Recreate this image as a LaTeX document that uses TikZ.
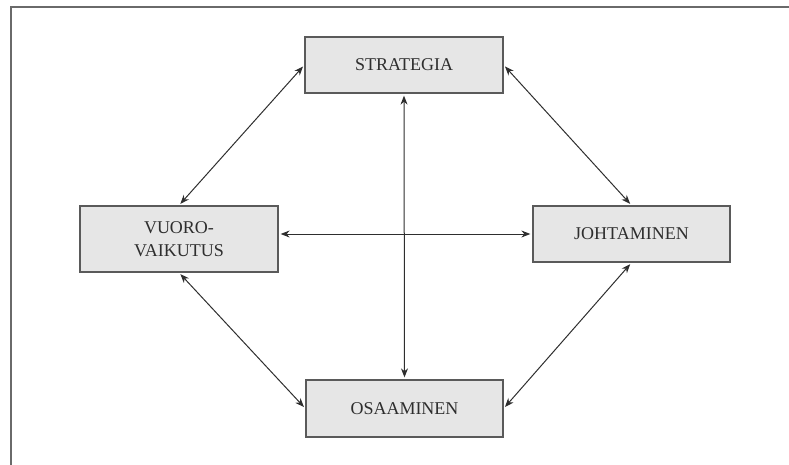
\documentclass[tikz,border=0pt]{standalone}
\usepackage{fontspec}
\setmainfont{Liberation Serif}
\usetikzlibrary{arrows.meta}
\definecolor{boxfill}{HTML}{E6E6E6}
\definecolor{boxline}{HTML}{5A5A5A}
\definecolor{txt}{HTML}{2E2E2E}
\definecolor{frame}{HTML}{6A6A6A}
\begin{document}
\begin{tikzpicture}[x=1pt,y=-1pt,
  conceptbox/.style={draw=boxline, fill=boxfill, line width=1.3pt, inner sep=0pt,
    text=txt, align=center, font=\fontsize{18}{23}\selectfont},
  link/.style={draw=txt, line width=1pt, {Stealth[length=9pt,width=7pt]}-{Stealth[length=9pt,width=7pt]}, shorten <=2pt, shorten >=2pt}]
\useasboundingbox (0,0) rectangle (789,465);
\draw[frame, line width=2pt] (789,7) -- (11,7) -- (11,465);
\node[conceptbox, minimum width=198pt, minimum height=56pt] (s) at (404,65) {STRATEGIA};
\node[conceptbox, minimum width=198pt, minimum height=66pt] (v) at (179,239) {VUORO-\\VAIKUTUS};
\node[conceptbox, minimum width=197pt, minimum height=56pt] (j) at (631.5,234) {JOHTAMINEN};
\node[conceptbox, minimum width=197pt, minimum height=57pt] (o) at (404.5,408.5) {OSAAMINEN};
\draw[link] (s.west) -- (v.north);
\draw[link] (s.east) -- (j.north);
\draw[link] (v.south) -- (o.west);
\draw[link] (j.south) -- (o.east);
\draw[link] (s.south) -- (o.north);
\draw[link] (j.west -| v.east) -- (j.west);
\end{tikzpicture}
\end{document}
